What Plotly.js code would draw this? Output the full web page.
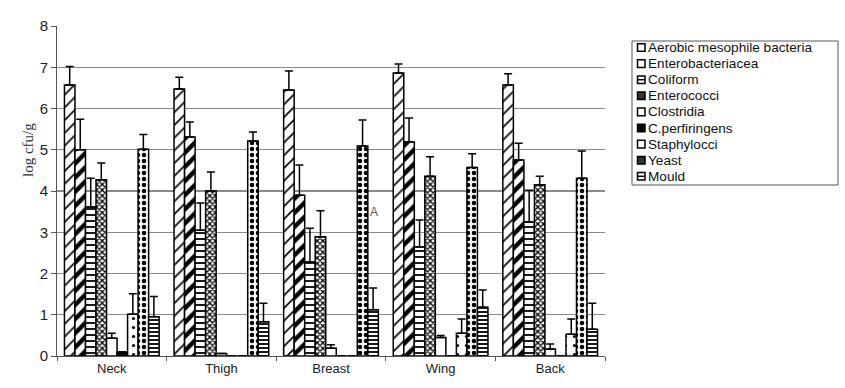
<!DOCTYPE html>
<html>
<head>
<meta charset="utf-8">
<script src="https://cdn.plot.ly/plotly-3.0.1.min.js"></script>
<style>html,body{margin:0;padding:0;background:#fff;}#chart{width:845px;height:388px;}</style>
</head>
<body>
<div id="chart"></div>
<script>
const categories = ["Neck", "Thigh", "Breast", "Wing", "Back"];
const seriesNames = ["Aerobic mesophile bacteria", "Enterobacteriacea", "Coliform", "Enterococci", "Clostridia", "C.perfiringens", "Staphylocci", "Yeast", "Mould"];

const aerobic      = [6.57, 6.47, 6.45, 6.86, 6.57];
const aerobicErr   = [0.45, 0.29, 0.46, 0.22, 0.27];
const entero       = [5.00, 5.31, 3.90, 5.19, 4.75];
const enteroErr    = [0.74, 0.36, 0.73, 0.58, 0.41];
const coliform     = [3.61, 3.05, 2.28, 2.64, 3.25];
const coliformErr  = [0.70, 0.66, 0.82, 0.66, 0.77];
const enterococci  = [4.27, 4.00, 2.89, 4.36, 4.15];
const enterococciErr = [0.41, 0.46, 0.63, 0.47, 0.21];
const clostridia   = [0.43, 0.06, 0.19, 0.45, 0.17];
const clostridiaErr = [0.12, 0, 0.08, 0.05, 0.12];
const cperf        = [0.10, 0, 0, 0, 0];
const cperfErr     = [0, 0, 0, 0, 0];
const staph        = [1.01, 0, 0, 0.55, 0.53];
const staphErr     = [0.50, 0, 0, 0.35, 0.37];
const yeast        = [5.01, 5.21, 5.09, 4.57, 4.31];
const yeastErr     = [0.36, 0.22, 0.63, 0.33, 0.66];
const mould        = [0.95, 0.83, 1.12, 1.18, 0.65];
const mouldErr     = [0.49, 0.45, 0.53, 0.42, 0.63];

const values = [aerobic, entero, coliform, enterococci, clostridia, cperf, staph, yeast, mould];
const errors = [aerobicErr, enteroErr, coliformErr, enterococciErr, clostridiaErr, cperfErr, staphErr, yeastErr, mouldErr];

const patterns = [
  {shape: "/", size: 9, solidity: 0.18},
  {shape: "/", size: 10, solidity: 0.45},
  {shape: "-", size: 6, solidity: 0.3},
  {shape: "x", size: 4, solidity: 0.55},
  {shape: "", size: 8, solidity: 0.2},
  null,
  {shape: ".", size: 9, solidity: 0.1},
  {shape: ".", size: 6, solidity: 0.45},
  {shape: "-", size: 4, solidity: 0.45}
];
// small legend key fills
const keyFill = ["#fff", "#fff", "#fff", "#333", "#fff", "#000", "#fff", "#333", "#fff"];
const keyBar  = [false, false, true, false, false, false, false, false, true];

const traces = seriesNames.map((name, i) => {
  const p = patterns[i];
  const marker = {line: {color: "#000", width: 1.5}};
  if (p === null) {
    marker.color = "#000";
  } else {
    marker.color = "#fff";
    if (p.shape) {
      marker.pattern = {shape: p.shape, size: p.size, solidity: p.solidity, fgcolor: "#000", bgcolor: "#fff", fillmode: "replace"};
    }
  }
  return {
    type: "bar",
    name: name,
    x: categories,
    y: values[i],
    marker: marker,
    error_y: {type: "data", array: errors[i], symmetric: false, arrayminus: errors[i].map(() => 0), color: "#000", thickness: 1.5, width: 4},
    hoverinfo: "x+y+name",
    showlegend: false
  };
});

// pixel -> paper helpers for the legend box
const L = 57, R = 605, T = 26, B = 356;
const px = v => (v - L) / (R - L);
const py = v => (B - v) / (B - T);

const shapes = [
  {type: "rect", xref: "paper", yref: "paper", x0: px(632), x1: px(838), y0: py(185), y1: py(41),
   line: {color: "#555", width: 1}, fillcolor: "rgba(0,0,0,0)"}
];
const annotations = [
  {text: "log cfu/g", xref: "paper", yref: "paper", x: px(18), y: py(150), showarrow: false, textangle: -90,
   font: {family: "Liberation Serif, Times New Roman, serif", size: 15, color: "#333"}},
  {text: "A", xref: "x", yref: "y", x: "Breast", y: 3.5, xshift: 43, showarrow: false,
   font: {size: 12, color: "#555"}}
];
seriesNames.forEach((name, i) => {
  const cy = 47.5 + i * 16.1;
  shapes.push({type: "rect", xref: "paper", yref: "paper", x0: px(637.5), x1: px(645), y0: py(cy + 3.8), y1: py(cy - 3.8),
    line: {color: "#000", width: 1.5}, fillcolor: keyFill[i]});
  if (keyBar[i]) {
    shapes.push({type: "line", xref: "paper", yref: "paper", x0: px(638), x1: px(644.5), y0: py(cy), y1: py(cy),
      line: {color: "#000", width: 1.5}});
  }
  annotations.push({text: name, xref: "paper", yref: "paper", x: px(645.5), y: py(cy), xanchor: "left", yanchor: "middle",
    showarrow: false, font: {size: 13.6, color: "#111"}});
});

const layout = {
  width: 845,
  height: 388,
  margin: {l: 57, r: 240, t: 26, b: 32},
  paper_bgcolor: "#fff",
  plot_bgcolor: "#fff",
  barmode: "group",
  bargap: 0.136,
  bargroupgap: 0,
  font: {family: "Liberation Sans, Arial, sans-serif", size: 13, color: "#222"},
  xaxis: {
    type: "category",
    showline: true, linecolor: "#555", linewidth: 1,
    ticks: "outside", tickson: "boundaries", ticklen: 4, tickcolor: "#555",
    showgrid: false,
    tickfont: {size: 13, color: "#222"}
  },
  yaxis: {
    range: [0, 8], dtick: 1,
    showline: true, linecolor: "#555", linewidth: 1,
    ticks: "outside", ticklen: 5, tickcolor: "#555",
    showgrid: true, gridcolor: "#8a8a8a", gridwidth: 1.2,
    zeroline: false,
    tickfont: {size: 15, color: "#222"}
  },
  showlegend: false,
  shapes: shapes,
  annotations: annotations
};

Plotly.newPlot("chart", traces, layout, {displayModeBar: false, staticPlot: true});
</script>
</body>
</html>
